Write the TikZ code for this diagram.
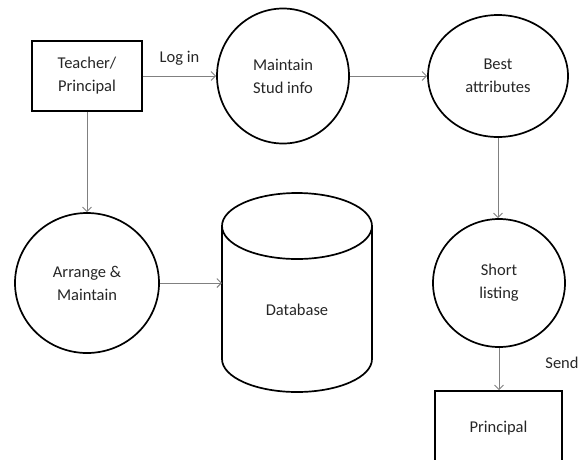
\documentclass[tikz,border=0pt]{standalone}
\usepackage{fontspec}
\setmainfont{Carlito}
\usetikzlibrary{arrows.meta,shapes.geometric}
\begin{document}
\begin{tikzpicture}[x=1pt,y=-1pt,
  every node/.style={font=\fontsize{16.5}{23}\selectfont, align=center, text=black!85},
  shp/.style={draw=black, line width=1.7pt},
  proc/.style={shp, ellipse, inner sep=0pt},
  ent/.style={shp, rectangle, inner sep=0pt},
  flow/.style={draw=black!50, line width=0.9pt, -{Straight Barb[length=4.5pt,width=9pt,line width=0.9pt]}},
  lbl/.style={inner sep=0pt}]
\useasboundingbox (0,0) rectangle (580,459);
\clip (0,0) rectangle (580,459);
% nodes
\node[ent, minimum width=110pt, minimum height=70pt] (tp) at (87,76) {Teacher/\\Principal};
\node[proc, minimum width=132pt, minimum height=135pt] (ms) at (283,76) {Maintain\\Stud info};
\node[proc, minimum width=140pt, minimum height=122pt] (ba) at (498,76) {Best\\attributes};
\node[proc, minimum width=144pt, minimum height=140pt] (am) at (87,283) {Arrange \&\\Maintain};
\node[proc, minimum width=132pt, minimum height=128pt] (sl) at (499,283) {Short\\listing};
\node[ent, minimum width=127pt, minimum height=74pt] (pr) at (498.5,428) {Principal};
% database cylinder
\node[lbl] (db) at (297,310) {Database};
\coordinate (dbw) at (222,283);
\draw[shp] (297,226) ellipse[x radius=75, y radius=33];
\draw[shp] (222,226) -- (222,359) arc[start angle=180, end angle=0, x radius=75, y radius=33] -- (372,226);
% connectors
\draw[flow] (tp.east) -- (ms.west) node[lbl, midway, above=10pt] (login) {Log in};
\draw[flow] (ms.east) -- (ba.west);
\draw[flow] (ba.south) -- (ba.south |- sl.north);
\draw[flow] (tp.south) -- (am.north);
\draw[flow] (am.east) -- (dbw);
\draw[flow] (sl.south) -- (sl.south |- pr.north);
\node[lbl] (send) at (562,363) {Send};
\end{tikzpicture}
\end{document}
